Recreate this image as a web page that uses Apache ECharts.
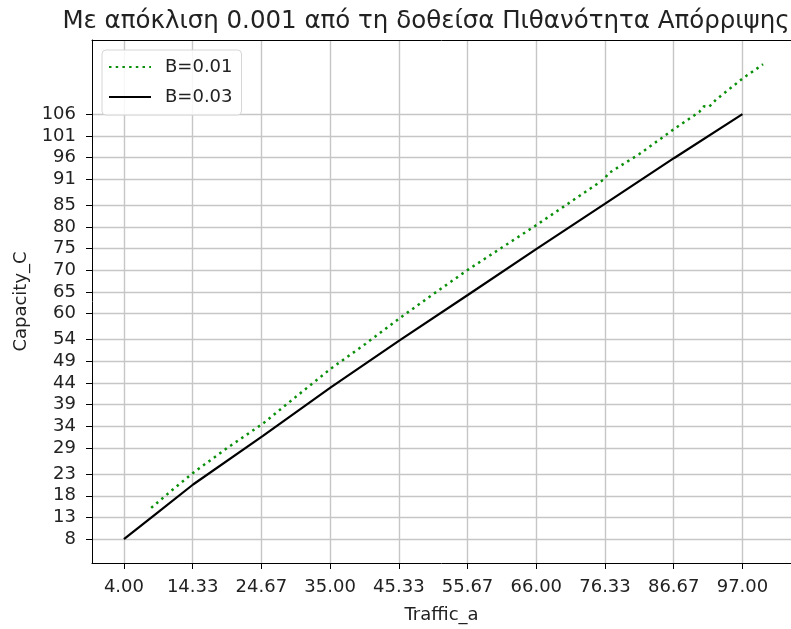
<!DOCTYPE html>
<html>
<head>
<meta charset="utf-8">
<script src="https://cdn.jsdelivr.net/npm/echarts@6/dist/echarts.min.js"></script>
<style>
    html, body { margin: 0; padding: 0; background: #fff; }
    #chart { width: 791px; height: 629px; }
</style>
</head>
<body>
<div id="chart"></div>
<script>
    var xTicks = [4.00, 14.333, 24.667, 35.00, 45.333, 55.667, 66.00, 76.333, 86.667, 97.00];
    var yTicks = [8, 13, 18, 23, 29, 34, 39, 44, 49, 54, 60, 65, 70, 75, 80, 85, 91, 96, 101, 106];

    // B=0.01 (green dotted)
    var trafficB1 = [8.1, 11.0, 14.33, 19.5, 24.86, 30.0, 35.1, 40.3, 45.5, 50.6, 55.7, 60.9, 66.1, 71.2, 76.3, 76.8, 81.5, 86.75, 90.5, 91.2, 92.0, 93.0, 97.0, 100.1];
    var capacityB1 = [15.2, 19.0, 23.2, 29.0, 34.6, 41.0, 47.3, 53.0, 59.0, 64.6, 70.1, 75.3, 80.5, 85.8, 91.1, 92.3, 96.8, 102.6, 106.5, 107.8, 107.7, 109.3, 114.2, 117.5];

    // B=0.03 (black solid)
    var trafficB3 = [4.0, 9.2, 14.4, 24.9, 35.1, 45.5, 55.7, 66.1, 76.3, 86.75, 97.0];
    var capacityB3 = [8.0, 14.3, 20.6, 31.8, 43.0, 53.9, 64.3, 75.0, 85.3, 95.9, 106.0];

    function pairs(xs, ys) {
        var out = [];
        for (var i = 0; i < xs.length; i++) out.push([xs[i], ys[i]]);
        return out;
    }

    var font = 'DejaVu Sans';
    var textColor = '#222';
    var xMin = -0.8, xMax = 104.3;

    var option = {
        animation: false,
        backgroundColor: '#fff',
        textStyle: { fontFamily: font },
        title: {
            text: 'Με απόκλιση 0.001 από τη δοθείσα Πιθανότητα Απόρριψης',
            left: 426,
            top: 9,
            padding: 0,
            textAlign: 'center',
            textStyle: { fontFamily: font, fontSize: 24.5, fontWeight: 'normal', color: textColor }
        },
        legend: {
            orient: 'vertical',
            left: 102,
            top: 50,
            itemWidth: 42,
            itemHeight: 14,
            itemGap: 12,
            padding: [8, 9, 9, 6],
            backgroundColor: 'rgba(255,255,255,0.85)',
            borderColor: '#d6d6d6',
            borderWidth: 1,
            borderRadius: 4,
            itemStyle: { opacity: 0, borderWidth: 0 },
            textStyle: { fontFamily: font, fontSize: 18, color: textColor, padding: [0, 0, 0, 9] },
            data: ['B=0.01', 'B=0.03']
        },
        grid: {
            left: 92,
            top: 40,
            right: 0,
            bottom: 65,
            show: false
        },
        xAxis: [
            {
                type: 'value',
                min: xMin,
                max: xMax,
                name: 'Traffic_a',
                nameLocation: 'middle',
                nameGap: 43,
                nameTextStyle: { fontFamily: font, fontSize: 18, color: textColor },
                axisLine: { show: true, lineStyle: { color: '#000', width: 1 } },
                axisTick: { show: true, customValues: xTicks, length: 6, lineStyle: { color: '#000' } },
                axisLabel: {
                    customValues: xTicks,
                    margin: 15,
                    fontSize: 18,
                    color: textColor,
                    formatter: function (v) { return v.toFixed(2); }
                },
                splitLine: { show: true, lineStyle: { color: '#c6c6c6', width: 1.4 } }
            },
            {
                // top spine only
                type: 'value',
                position: 'top',
                min: xMin,
                max: xMax,
                axisLine: { show: true, onZero: false, lineStyle: { color: '#000', width: 1 } },
                axisTick: { show: false },
                axisLabel: { show: false },
                splitLine: { show: false }
            }
        ],
        yAxis: {
            type: 'value',
            min: 2.5,
            max: 123.1,
            name: 'Capacity_C',
            nameLocation: 'middle',
            nameGap: 60,
            nameTextStyle: { fontFamily: font, fontSize: 18, color: textColor },
            axisLine: { show: true, onZero: false, lineStyle: { color: '#000', width: 1 } },
            axisTick: { show: true, customValues: yTicks, length: 6, lineStyle: { color: '#000' } },
            axisLabel: {
                customValues: yTicks,
                margin: 16,
                fontSize: 18,
                color: textColor,
                formatter: function (v) { return String(Math.round(v)); }
            },
            splitLine: { show: true, lineStyle: { color: '#c6c6c6', width: 1.4 } }
        },
        series: [
            {
                name: 'B=0.01',
                type: 'line',
                symbol: 'none',
                showSymbol: false,
                data: pairs(trafficB1, capacityB1),
                itemStyle: { color: '#0a8f0a' },
                lineStyle: { color: '#0a8f0a', width: 2.5, type: [2.5, 4.2], cap: 'butt' }
            },
            {
                name: 'B=0.03',
                type: 'line',
                symbol: 'none',
                showSymbol: false,
                data: pairs(trafficB3, capacityB3),
                itemStyle: { color: '#000' },
                lineStyle: { color: '#000', width: 2.2 }
            }
        ]
    };

    var chart = echarts.init(document.getElementById('chart'), null, { renderer: 'canvas' });
    chart.setOption(option);
</script>
</body>
</html>
